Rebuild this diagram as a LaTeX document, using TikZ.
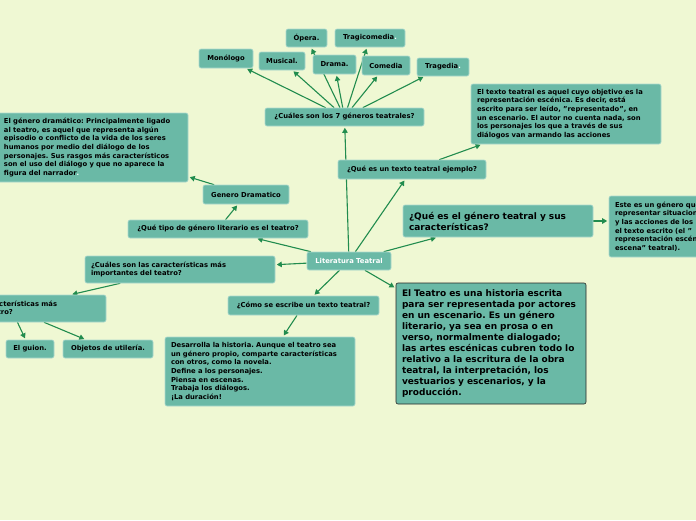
\documentclass[tikz,border=0pt]{standalone}
\usepackage{fontspec}
\setmainfont{DejaVu Sans}
\frenchspacing
\usetikzlibrary{arrows.meta}
\definecolor{paper}{RGB}{239,248,211}
\definecolor{boxfill}{RGB}{106,185,166}
\definecolor{linkgreen}{RGB}{33,140,78}
\pgfdeclarelayer{bg}
\pgfdeclarelayer{edges}
\pgfsetlayers{bg,edges,main}
\tikzset{
  topic/.style={fill=boxfill, draw=white!45!boxfill, line width=0.6pt, rounded corners=2pt,
    font=\bfseries\fontsize{6.8}{8.7}\selectfont, inner sep=0pt, text=black},
  note/.style={topic, align=left, inner xsep=6pt, text width=178pt},
  bignote/.style={note, font=\bfseries\fontsize{9}{11}\selectfont},
  link/.style={draw=linkgreen, line width=1.1pt, shorten >=1.5pt,
    -{Triangle[length=5pt,width=5.5pt]}}
}

\begin{document}
\begin{tikzpicture}[x=1pt,y=-1pt]
  \useasboundingbox (0,0) rectangle (696,520);
  \clip (0,0) rectangle (696,520);
  \begin{pgfonlayer}{bg}
    \fill[paper] (0,0) rectangle (696,520);
  \end{pgfonlayer}

  \node[topic, text=white, minimum width=84pt, minimum height=18pt] (lit) at (349,261) {Literatura Teatral};

  % generos
  \node[topic, minimum width=159pt, minimum height=18pt] (g7) at (344.5,117) {¿Cuáles son los 7 géneros teatrales?};
  \node[topic, minimum width=41pt, minimum height=18pt] (opera) at (306.5,38) {Ópera.};
  \node[topic, minimum width=70pt, minimum height=18pt] (tragi) at (370,38) {Tragicomedia\textcolor{white}{.}};
  \node[topic, minimum width=54pt, minimum height=19pt] (mono) at (226,58.5) {Monólogo};
  \node[topic, minimum width=46pt, minimum height=18pt] (musical) at (282,61) {Musical.};
  \node[topic, minimum width=43pt, minimum height=19pt] (drama) at (334.5,64.5) {Drama.};
  \node[topic, minimum width=48pt, minimum height=19pt] (comedia) at (386,65.5) {Comedia};
  \node[topic, minimum width=52pt, minimum height=18pt] (tragedia) at (443,67) {Tragedia\textcolor{white}{.}};

  % texto teatral
  \node[topic, minimum width=148pt, minimum height=19pt] (qtexto) at (412,169.5) {¿Qué es un texto teatral ejemplo?};
  \node[note, minimum height=60pt] (textdef) at (566,114) {El texto teatral es aquel cuyo objetivo es la\\
    representación escénica. Es decir, está\\
    escrito para ser leído, "representado", en\\
    un escenario. El autor no cuenta nada, son\\
    los personajes los que a través de sus\\
    diálogos van armando las acciones};

  \node[bignote, minimum height=32pt] (qgen) at (498,221) {¿Qué es el género teatral y sus\\características?};
  \node[note, minimum height=61pt] (este) at (704,226.5) {Este es un género que\\
    representar situaciones\\
    y las acciones de los\\
    el texto escrito (el "\\
    representación escénica\\
    escena" teatral).};

  % genero dramatico
  \node[topic, minimum width=180pt, minimum height=18pt] (qtipo) at (218,229) {¿Qué tipo de género literario es el teatro?};
  \node[topic, minimum width=86pt, minimum height=19pt] (gdram) at (246,194.5) {Genero Dramatico};
  \node[note, minimum height=69pt] (gdef) at (93,147.5) {El género dramático: Principalmente ligado\\
    al teatro, es aquel que representa algún\\
    episodio o conflicto de la vida de los seres\\
    humanos por medio del diálogo de los\\
    personajes. Sus rasgos más característicos\\
    son el uso del diálogo y que no aparece la\\
    figura del narrador\textcolor{white}{.}};

  % caracteristicas
  \node[note, minimum height=27pt] (qcar) at (180,269.5) {¿Cuáles son las características más\\importantes del teatro?};
  \node[note, minimum height=27pt] (qcar2) at (11,308.5) {¿Cuáles son las características más\\importantes del teatro?};
  \node[topic, minimum width=48pt, minimum height=18pt] (guion) at (30,349) {El guion.};
  \node[topic, minimum width=90pt, minimum height=18pt] (util) at (108,349) {Objetos de utilería.};

  % escribir
  \node[topic, minimum width=151pt, minimum height=19pt] (qcomo) at (303.5,305.5) {¿Cómo se escribe un texto teatral?};
  \node[note, minimum height=69pt] (desa) at (260,371.5) {Desarrolla la historia. Aunque el teatro sea\\
    un género propio, comparte características\\
    con otros, como la novela.\\
    Define a los personajes.\\
    Piensa en escenas.\\
    Trabaja los diálogos.\\
    ¡La duración!};

  \node[bignote, draw=black!85, minimum height=121pt] (teatro) at (491,343.5) {El Teatro es una historia escrita\\
    para ser representada por actores\\
    en un escenario. Es un género\\
    literario, ya sea en prosa o en\\
    verso, normalmente dialogado;\\
    las artes escénicas cubren todo lo\\
    relativo a la escritura de la obra\\
    teatral, la interpretación, los\\
    vestuarios y escenarios, y la\\
    producción.};

  \begin{pgfonlayer}{edges}
    \foreach \t in {mono,musical,opera,drama,tragi,comedia,tragedia}
      \draw[link] (g7) -- (\t);
    \foreach \t in {g7,qtexto,qgen,qtipo,qcar,qcomo,teatro}
      \draw[link] (lit) -- (\t);
    \draw[link] (qtexto) -- (textdef);
    \draw[link] (qgen.east) -- (qgen.east -| este.west);
    \draw[link] (qtipo) -- (gdram);
    \draw[link] (gdram) -- (gdef);
    \draw[link] (qcar) -- (qcar2);
    \draw[link] (qcar2) -- (guion);
    \draw[link] (qcar2) -- (util);
    \draw[link] (qcomo) -- (desa);
  \end{pgfonlayer}
\end{tikzpicture}
\end{document}
